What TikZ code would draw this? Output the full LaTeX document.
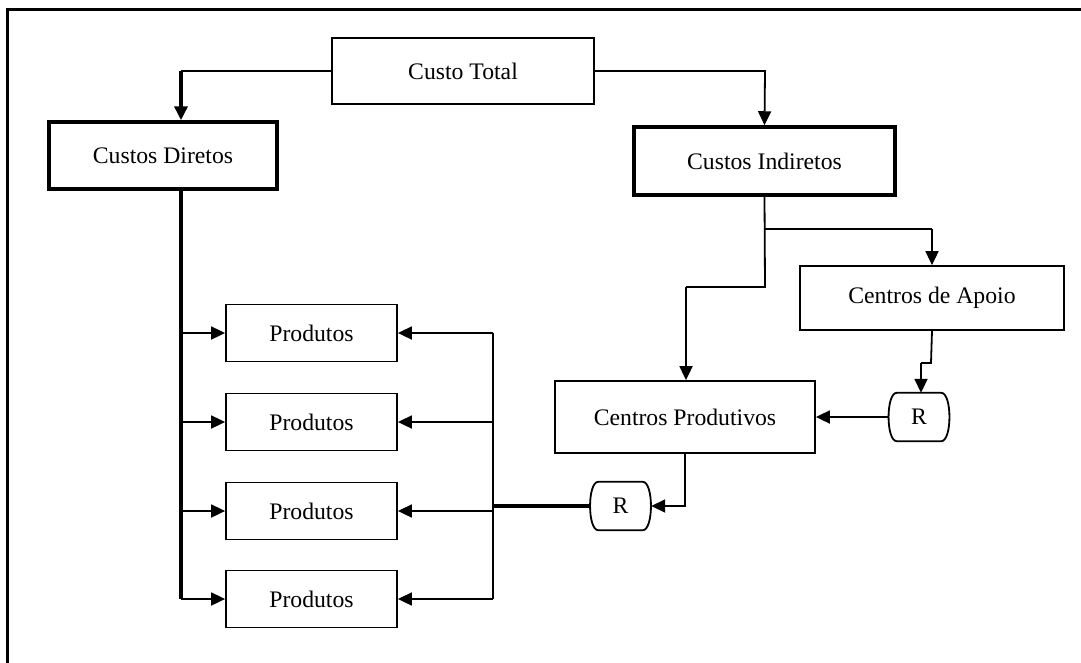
\documentclass[tikz,border=0pt]{standalone}
\usepackage{fontspec}
\setmainfont{Liberation Serif}
\usetikzlibrary{arrows.meta}
\begin{document}
\begin{tikzpicture}[x=1pt,y=-1pt,
  every node/.style={font=\fontsize{23.7}{28}\selectfont, inner sep=0pt},
  box/.style={draw, line width=1.8pt, minimum width=#1},
  thickbox/.style={draw, line width=3.5pt, minimum width=#1},
  prod/.style={box=171pt, minimum height=57pt},
  rnode/.style={minimum width=64pt, minimum height=48pt},
  thinline/.style={line width=1.8pt},
  thickline/.style={line width=3.5pt},
  arr/.style={-{Triangle[length=14pt,width=13pt]}}
]
\useasboundingbox (0,0) rectangle (1081,662);
\draw[line width=3pt] (7,663) -- (7,9) -- (1082,9);

\node[box=262pt, minimum height=66pt] (total) at (463,71) {Custo Total};
\node[thickbox=228pt, minimum height=67pt] (diretos) at (163,155.5) {Custos Diretos};
\node[thickbox=261pt, minimum height=68pt] (indiretos) at (764.5,161) {Custos Indiretos};
\node[box=264pt, minimum height=64pt] (apoio) at (932,298) {Centros de Apoio};
\node[box=260pt, minimum height=72pt] (prodc) at (685,417) {Centros Produtivos};
\node[rnode] (r1) at (919,417) {R};
\node[rnode] (r2) at (620.5,506) {R};
\node[prod] (p1) at (311.5,333) {Produtos};
\node[prod] (p2) at (311.5,422) {Produtos};
\node[prod] (p3) at (311.5,511) {Produtos};
\node[prod] (p4) at (311.5,599) {Produtos};

% outline of the R nodes: flat top and bottom, bulging sides
\foreach \r in {r1,r2}
  \draw[thinline] ([xshift=-10pt]\r.north east)
     .. controls ([xshift=1pt]\r.north east) and ([xshift=1pt]\r.south east) .. ([xshift=-10pt]\r.south east)
     -- ([xshift=10pt]\r.south west)
     .. controls ([xshift=-1pt]\r.south west) and ([xshift=-1pt]\r.north west) .. ([xshift=10pt]\r.north west)
     -- cycle;

\coordinate (cl) at (181,71);
\coordinate (cr) at (765,71);
\coordinate (ja) at (765,229);
\coordinate (jb) at (765,287);
\coordinate (jc) at (686,287);
\coordinate (jd) at (932,229);
\coordinate (je) at (931,363);
\coordinate (jf) at (921,363);
\coordinate (bus) at (493,506);

% top level
\draw[thinline] (total.west) -- (cl);
\draw[thickline,arr] (cl) -- (cl |- diretos.north);
\draw[thinline,arr] (total.east) -- (cr) -- (indiretos.north);

% indirect costs
\draw[thinline] (indiretos.south) -- (jb) -- (jc);
\draw[thinline,arr] (jc) -- (jc |- prodc.north);
\draw[thinline] (ja) -- (jd);
\draw[thinline,arr] (jd) -- (apoio.north);
\draw[thinline] (apoio.south) -- (je) -- (jf);
\draw[thinline,arr] (jf) -- (jf |- r1.north);
\draw[thinline,arr] ([xshift=1.5pt]r1.west) -- (prodc.east);
\draw[thinline,arr] (prodc.south) -- (prodc.south |- r2.east) -- ([xshift=-1.5pt]r2.east);

% right bus
\draw[thickline] ([xshift=1.5pt]r2.west) -- (bus);
\draw[thinline] (bus |- p1) -- (bus |- p4);
\foreach \p in {p1,p2,p3,p4}
  \draw[thinline,arr] (bus |- \p) -- (\p.east);

% left bus
\draw[thickline] (cl |- diretos.south) -- (cl |- p4);
\foreach \p in {p1,p2,p3,p4}
  \draw[thinline,arr] (cl |- \p) -- (\p.west);
\end{tikzpicture}
\end{document}
